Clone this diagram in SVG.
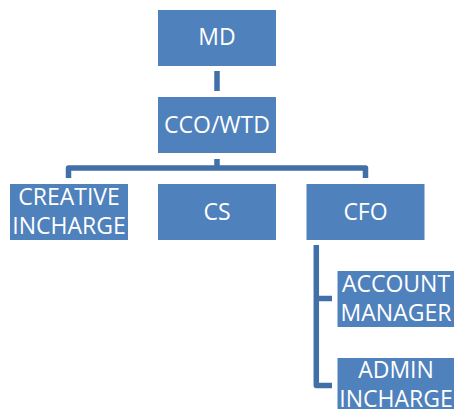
<svg xmlns="http://www.w3.org/2000/svg" width="454" height="409" viewBox="0 0 454 409">
<style>
.box{fill:#4f81bd}
.t{fill:#fff;font-family:"Open Sans","Liberation Sans",sans-serif;font-size:23px;text-anchor:middle}
.c{fill:none;stroke:#4170a8;stroke-width:5.5;stroke-linejoin:round;stroke-linecap:butt}
</style>
<rect width="454" height="409" fill="#fff"/>
<g id="connectors">
<path class="c" d="M217 71V91"/>
<path class="c" d="M217 159V168M68.5 178V168H365.5V178"/>
<path class="c" d="M316.3 245V385.5H332M316.3 298.5H332"/>
</g>
<g id="md"><rect class="box" x="158" y="10" width="118" height="56"/><text class="t" x="217" y="45">MD</text></g>
<g id="cco"><rect class="box" x="158" y="97" width="118" height="56"/><text class="t" x="217" y="133">CCO/WTD</text></g>
<g id="creative"><rect class="box" x="10" y="184" width="118" height="56"/><text class="t" x="69" y="205">CREATIVE</text><text class="t" x="69" y="234">INCHARGE</text></g>
<g id="cs"><rect class="box" x="158" y="184" width="118" height="56"/><text class="t" x="217" y="220">CS</text></g>
<g id="cfo"><rect class="box" x="306.5" y="184" width="118" height="56"/><text class="t" x="365.5" y="220">CFO</text></g>
<g id="account"><rect class="box" x="337.5" y="271" width="118" height="56"/><text class="t" x="396" y="292">ACCOUNT</text><text class="t" x="396" y="321">MANAGER</text></g>
<g id="admin"><rect class="box" x="337.5" y="358" width="118" height="56"/><text class="t" x="396" y="378">ADMIN</text><text class="t" x="396" y="407">INCHARGE</text></g>
</svg>
